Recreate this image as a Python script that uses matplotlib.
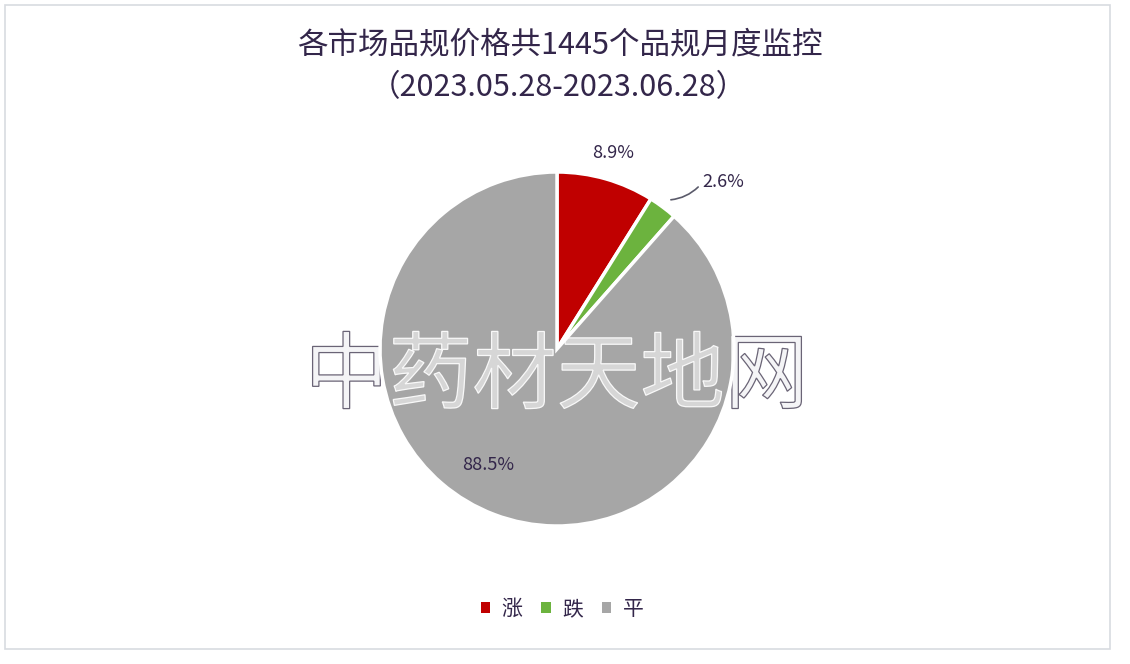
import numpy as np
import matplotlib
matplotlib.use("Agg")
import matplotlib.pyplot as plt
from matplotlib.patches import Circle, Rectangle, PathPatch
from matplotlib.textpath import TextPath
from matplotlib.font_manager import FontProperties
from matplotlib.transforms import Affine2D

plt.rcParams['font.family'] = ['Noto Sans CJK SC', 'DejaVu Sans']

# data
categories = ["涨", "跌", "平"]
shares = [8.9, 2.6, 88.5]
colors = ["#c00000", "#6cb33e", "#a6a6a6"]
title_lines = ["各市场品规价格共1445个品规月度监控", "（2023.05.28-2023.06.28）"]
watermark = "中药材天地网"

text_color = "#33264a"
W, H = 1130, 664

fig = plt.figure(figsize=(W / 100, H / 100), dpi=100)
ax = fig.add_axes([0, 0, 1, 1])

# light frame
ax.add_patch(Rectangle((5, 15), 1105, 644, fill=False, edgecolor="#d8dbe0", lw=1.2))

cx, cy, r = 557, H - 349, 177

wedges, _ = ax.pie(shares, colors=colors, startangle=90, counterclock=False,
                   center=(cx, cy), radius=r, frame=True,
                   wedgeprops=dict(edgecolor='white', linewidth=2.5, zorder=2))
ax.set_xlim(0, W)
ax.set_ylim(0, H)
ax.axis('off')

# watermark as a path so it can be clipped to the pie
tp = TextPath((0, 0), watermark, size=84,
              prop=FontProperties(family='Noto Sans CJK SC', weight='light'))
ext = tp.get_extents()
shift = Affine2D().translate(557 - (ext.x0 + ext.x1) / 2, H - 370 - (ext.y0 + ext.y1) / 2)
wm_path = shift.transform_path(tp)
ax.add_patch(PathPatch(wm_path, facecolor="#f4f4f6", edgecolor="#6a6476",
                       lw=0.9, zorder=1))
inner = PathPatch(wm_path, facecolor=(1, 1, 1, 0.55), edgecolor=(1, 1, 1, 0.9),
                  lw=0.9, zorder=3)
ax.add_patch(inner)
inner.set_clip_path(Circle((cx, cy), r, transform=ax.transData))

# percentage labels
for i, (w, s) in enumerate(zip(wedges, shares)):
    mid = np.deg2rad((w.theta1 + w.theta2) / 2)
    label = f"{s}%"
    if i == 0:
        d = 1.15
        ax.text(cx + d * r * np.cos(mid), cy + d * r * np.sin(mid), label,
                ha='center', va='center', fontsize=13, color=text_color, zorder=4)
    elif i == 1:
        p0 = (cx + 1.05 * r * np.cos(mid), cy + 1.05 * r * np.sin(mid))
        p1 = (p0[0] + 32, p0[1] + 15)
        ax.annotate("", xy=p0, xytext=p1,
                    arrowprops=dict(arrowstyle='-', color="#5a5a6a", lw=1.2,
                                    connectionstyle="arc3,rad=-0.2"))
        ax.text(p1[0] + 2, p1[1] + 3, label, ha='left', va='center',
                fontsize=13, color=text_color, zorder=4)
    else:
        ax.text(cx - 69, H - 465, label, ha='center', va='center',
                fontsize=13, color=text_color, zorder=4)

# title
ax.text(W / 2 - 5, H - 45, title_lines[0], ha='center', va='center',
        fontsize=22, color=text_color)
ax.text(W / 2 - 7, H - 88, title_lines[1], ha='center', va='center',
        fontsize=22, color=text_color)

leg = ax.legend(wedges, categories, loc='center', bbox_to_anchor=(562 / W, 1 - 609 / H),
                ncol=3, frameon=False, fontsize=15, handlelength=0.45, handleheight=0.45,
                columnspacing=0.9, handletextpad=0.55)
for t in leg.get_texts():
    t.set_color(text_color)
for h in leg.legend_handles:
    h.set_edgecolor('none')

fig.savefig("out.png", dpi=100, facecolor='white')
